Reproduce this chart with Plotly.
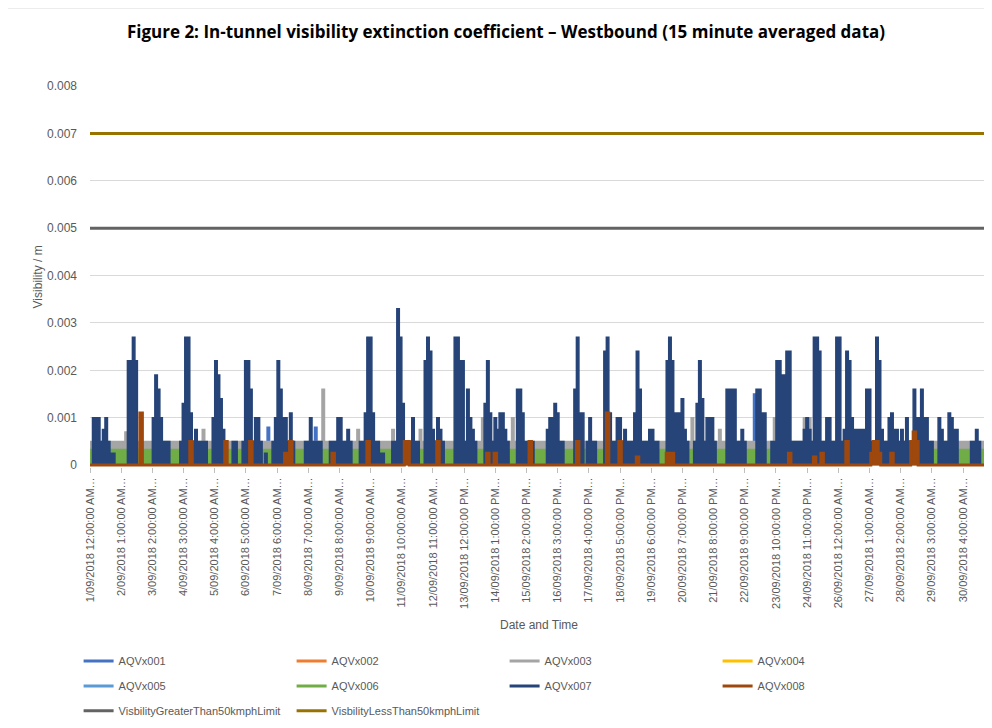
import pandas as pd
import plotly.graph_objects as go

# ---------------- data ----------------
START = "2018-09-01 00:00"   # first sample
BIN = "2h"                    # values below are 2-hour envelopes of the 15-min data

tick_labels = [
    "1/09/2018 12:00:00 AM…", "2/09/2018 1:00:00 AM…", "3/09/2018 2:00:00 AM…",
    "4/09/2018 3:00:00 AM…", "5/09/2018 4:00:00 AM…", "6/09/2018 5:00:00 AM…",
    "7/09/2018 6:00:00 AM…", "8/09/2018 7:00:00 AM…", "9/09/2018 8:00:00 AM…",
    "10/09/2018 9:00:00 AM…", "11/09/2018 10:00:00 AM…", "12/09/2018 11:00:00 AM…",
    "13/09/2018 12:00:00 PM…", "14/09/2018 1:00:00 PM…", "15/09/2018 2:00:00 PM…",
    "16/09/2018 3:00:00 PM…", "17/09/2018 4:00:00 PM…", "18/09/2018 5:00:00 PM…",
    "19/09/2018 6:00:00 PM…", "20/09/2018 7:00:00 PM…", "21/09/2018 8:00:00 PM…",
    "22/09/2018 9:00:00 PM…", "23/09/2018 10:00:00 PM…", "24/09/2018 11:00:00 PM…",
    "26/09/2018 12:00:00 AM…", "27/09/2018 1:00:00 AM…", "28/09/2018 2:00:00 AM…",
    "29/09/2018 3:00:00 AM…", "30/09/2018 4:00:00 AM…",
]
tick_times = [
    "2018-09-01 00:00", "2018-09-02 01:00", "2018-09-03 02:00", "2018-09-04 03:00",
    "2018-09-05 04:00", "2018-09-06 05:00", "2018-09-07 06:00", "2018-09-08 07:00",
    "2018-09-09 08:00", "2018-09-10 09:00", "2018-09-11 10:00", "2018-09-12 11:00",
    "2018-09-13 12:00", "2018-09-14 13:00", "2018-09-15 14:00", "2018-09-16 15:00",
    "2018-09-17 16:00", "2018-09-18 17:00", "2018-09-19 18:00", "2018-09-20 19:00",
    "2018-09-21 20:00", "2018-09-22 21:00", "2018-09-23 22:00", "2018-09-24 23:00",
    "2018-09-26 00:00", "2018-09-27 01:00", "2018-09-28 02:00", "2018-09-29 03:00",
    "2018-09-30 04:00",
]

# AQVx007, one row per day, 12 two-hour values
aqvx007_by_day = [
    [0, 0.001, 0.001, 0.001, 0.0005, 0.00075, 0.001, 0.0005, 0.00025, 0.00025, 0, 0],
    [0, 0, 0, 0.0022, 0.0022, 0.0027, 0.0022, 0, 0, 0, 0, 0],
    [0, 0.001, 0.0019, 0.0016, 0.001, 0.0005, 0.0005, 0.0005, 0, 0, 0, 0],
    [0.0005, 0.0013, 0.0027, 0.0027, 0.0011, 0.0005, 0.00075, 0.0005, 0.0005, 0.0005, 0.0005, 0],
    [0, 0.001, 0.0022, 0.0019, 0.0014, 0.00075, 0, 0, 0, 0.0005, 0.0005, 0],
    [0, 0.0005, 0.0022, 0.0022, 0.0016, 0.0005, 0.001, 0.001, 0.0005, 0, 0.00025, 0],
    [0, 0.0005, 0.001, 0.0022, 0.0016, 0.001, 0.001, 0.0005, 0.0011, 0.0005, 0, 0],
    [0, 0, 0.0005, 0.0005, 0.001, 0.0005, 0.0005, 0.0005, 0.0005, 0, 0, 0],
    [0.0005, 0.0005, 0.0005, 0.001, 0.001, 0.0005, 0.0005, 0.00075, 0.0005, 0, 0, 0],
    [0.0005, 0.0005, 0.0011, 0.0027, 0.0027, 0.0011, 0.0005, 0.0005, 0.00025, 0.00025, 0, 0],
    [0, 0.0005, 0.0005, 0.0033, 0.0027, 0.0013, 0.0005, 0.0005, 0.0005, 0.001, 0.0005, 0.0005],
    [0, 0, 0.0022, 0.0027, 0.0024, 0.00075, 0.0005, 0.001, 0.00075, 0.0005, 0, 0],
    [0, 0, 0.0027, 0.0027, 0.0022, 0.0022, 0.0005, 0.0016, 0.001, 0.00075, 0.0005, 0],
    [0, 0, 0.0013, 0.0022, 0.0011, 0.0005, 0.001, 0.00075, 0.0011, 0.0011, 0.00075, 0.0005],
    [0, 0, 0, 0.0016, 0.0016, 0.0011, 0.0005, 0.0005, 0.0005, 0.0005, 0, 0],
    [0, 0, 0, 0.00075, 0.001, 0.001, 0.0013, 0.0011, 0.0005, 0.0005, 0, 0],
    [0, 0, 0.0016, 0.0027, 0.0011, 0.0011, 0, 0.0005, 0.001, 0.0005, 0.0005, 0],
    [0, 0, 0.0024, 0.0027, 0.0011, 0.0005, 0.0005, 0.001, 0.001, 0.0005, 0.00075, 0.0005],
    [0.0005, 0.0005, 0.0011, 0.0024, 0.0016, 0.0005, 0.0005, 0.0005, 0.00075, 0.00075, 0.0005, 0.0005],
    [0, 0, 0, 0.0022, 0.0027, 0.0022, 0.0011, 0.0011, 0.0011, 0.0014, 0.00075, 0.0005],
    [0, 0, 0.0005, 0.0013, 0.0022, 0.0014, 0.0005, 0.001, 0.001, 0.001, 0.0005, 0],
    [0, 0, 0, 0.0016, 0.0016, 0.0016, 0.0016, 0.0005, 0.0005, 0.00075, 0.0005, 0],
    [0, 0, 0, 0.0016, 0.0016, 0.0011, 0.0011, 0, 0, 0.0005, 0.0005, 0.0022],
    [0.0022, 0.0019, 0.0019, 0.0024, 0.0024, 0.0005, 0.0005, 0.0005, 0.0005, 0.0005, 0.00075, 0.001],
    [0.00075, 0.0005, 0.0027, 0.0027, 0.0024, 0.0005, 0.0005, 0.001, 0.001, 0.0005, 0.0005, 0.0027],
    [0.0027, 0.0005, 0.00075, 0.0024, 0.0022, 0.001, 0.00075, 0.00075, 0.00075, 0.00075, 0.00075, 0.0016],
    [0.0016, 0.0005, 0.0005, 0.0027, 0.0022, 0.00075, 0.0005, 0.0005, 0.001, 0.0011, 0.00075, 0.00075],
    [0.0005, 0.00075, 0.0005, 0.001, 0.0005, 0.0005, 0.0016, 0.001, 0.001, 0.0016, 0.001, 0.001],
    [0.0005, 0.0005, 0, 0, 0.001, 0.00075, 0.0005, 0.0005, 0.0011, 0.001, 0.00075, 0.00075],
    [0, 0, 0, 0, 0, 0.0005, 0.0005, 0.00075, 0.0005, 0, 0, 0.0005],
]

# AQVx003: steady level with a few higher readings (2-hour bin index -> value)
aqvx003_level = 0.0005
aqvx003_peaks = {14: 0.0007, 45: 0.00075, 93: 0.0016, 107: 0.00075, 121: 0.00075,
                 132: 0.00075, 157: 0.001, 169: 0.001, 241: 0.001, 252: 0.00075,
                 274: 0.001, 286: 0.001, 287: 0.001, 288: 0.001}
# AQVx006: steady level
aqvx006_level = 0.00033
# AQVx008: zero except these readings
aqvx008_peaks = {20: 0.0011, 40: 0.0005, 54: 0.0005, 64: 0.0005, 78: 0.00025, 80: 0.0005,
                 97: 0.00025, 111: 0.0005, 126: 0.0005, 127: 0.0005, 139: 0.0005,
                 159: 0.00025, 162: 0.00025, 176: 0.0005, 195: 0.0005, 207: 0.0011,
                 212: 0.0005, 219: 0.00017, 231: 0.00025, 233: 0.00025, 280: 0.00025,
                 290: 0.00017, 293: 0.00025, 303: 0.0005, 313: 0.00025, 314: 0.0005,
                 315: 0.0005, 316: 0.00025, 321: 0.00025, 329: 0.0005, 330: 0.0007,
                 331: 0.0005}
# AQVx001: zero except these readings
aqvx001_peaks = {71: 0.0008, 90: 0.0008, 266: 0.0015}
# AQVx002, AQVx004, AQVx005 read as zero throughout
zero_level = 0.0

limit_gt50 = 0.005
limit_lt50 = 0.007

y_tick_vals = [0, 0.001, 0.002, 0.003, 0.004, 0.005, 0.006, 0.007, 0.008]
y_tick_text = ["0", "0.001", "0.002", "0.003", "0.004", "0.005", "0.006", "0.007", "0.008"]

# ---------------- build series ----------------
aqvx007 = [v for day in aqvx007_by_day for v in day]
n = len(aqvx007)
times = pd.date_range(START, periods=n + 1, freq=BIN)


def from_peaks(base, peaks):
    return [peaks.get(i, base) for i in range(n)]


def stepped(vals):
    return list(vals) + [vals[-1]]


series = [
    ("AQVx001", from_peaks(0.0, aqvx001_peaks), "#4472C4", True, "legend"),
    ("AQVx002", [zero_level] * n, "#ED7D31", False, "legend"),
    ("AQVx003", from_peaks(aqvx003_level, aqvx003_peaks), "#A5A5A5", True, "legend"),
    ("AQVx004", [zero_level] * n, "#FFC000", False, "legend"),
    ("AQVx005", [zero_level] * n, "#5B9BD5", False, "legend2"),
    ("AQVx006", [aqvx006_level] * n, "#70AD47", True, "legend2"),
    ("AQVx007", aqvx007, "#264478", True, "legend2"),
    ("AQVx008", from_peaks(0.0, aqvx008_peaks), "#9E480E", True, "legend2"),
]

fig = go.Figure()
for name, vals, color, filled, leg in series:
    fig.add_trace(go.Scatter(
        x=times, y=stepped(vals), name=name, mode="lines",
        line=dict(color=color, width=3 if name == "AQVx008" else 1.5, shape="hv"),
        fill="tozeroy" if filled else None, fillcolor=color,
        showlegend=False, hoverinfo="skip",
    ))

limits = [("VisbilityGreaterThan50kmphLimit", limit_gt50, "#636363"),
          ("VisbilityLessThan50kmphLimit", limit_lt50, "#997300")]
for name, val, color in limits:
    fig.add_trace(go.Scatter(x=[times[0], times[-1]], y=[val, val], name=name, mode="lines",
                             line=dict(color=color, width=3), showlegend=False, hoverinfo="skip"))

# legend entries (line keys, as in the original)
for name, vals, color, filled, leg in series:
    fig.add_trace(go.Scatter(x=[None], y=[None], name=name, mode="lines",
                             line=dict(color=color, width=3), legend=leg))
for name, val, color in limits:
    fig.add_trace(go.Scatter(x=[None], y=[None], name=name, mode="lines",
                             line=dict(color=color, width=3), legend="legend3"))

FONT = "Liberation Sans"
GREY = "#595959"
leg_common = dict(orientation="h", entrywidth=168, entrywidthmode="pixels",
                  xanchor="left", yanchor="middle", x=-0.0127, itemwidth=30,
                  font=dict(family=FONT, size=11, color=GREY), bgcolor="rgba(0,0,0,0)",
                  traceorder="normal")

fig.update_layout(
    width=984, height=720,
    margin=dict(l=82, r=4, t=78, b=261, autoexpand=False),
    paper_bgcolor="white", plot_bgcolor="white",
    title=dict(text="<b>Figure 2: In-tunnel visibility extinction coefficient – Westbound (15 minute averaged data)</b>",
               x=(506 - 8) / 984, y=1 - (32 - 8) / 720, xanchor="center", yanchor="middle",
               font=dict(family="Open Sans", size=17, color="black")),
    showlegend=True,
    legend=dict(leg_common, y=-0.509),
    legend2=dict(leg_common, y=-0.575),
    legend3=dict(leg_common, y=-0.640),
    xaxis=dict(range=[times[0], times[-1]], tickvals=pd.to_datetime(tick_times), ticktext=tick_labels,
               tickangle=-90, tickfont=dict(family=FONT, size=11, color=GREY),
               ticks="outside", ticklen=5, tickcolor="#bfbfbf", showgrid=False,
               showline=False, zeroline=False, fixedrange=True),
    yaxis=dict(range=[-0.00004, 0.008], tickvals=y_tick_vals, ticktext=y_tick_text,
               tickfont=dict(family=FONT, size=12, color=GREY), showgrid=True,
               gridcolor="#d9d9d9", gridwidth=1, zeroline=False, showline=False,
               ticks="", ticklabelstandoff=12, fixedrange=True),
    annotations=[
        dict(text="Visibility / m", x=-0.058, y=0.5, xref="paper", yref="paper",
             textangle=-90, showarrow=False, xanchor="center", yanchor="middle",
             font=dict(family=FONT, size=12, color=GREY)),
        dict(text="Date and Time", x=0.5, y=-0.4147, xref="paper", yref="paper",
             showarrow=False, xanchor="center", yanchor="middle",
             font=dict(family=FONT, size=12, color=GREY)),
    ],
    shapes=[dict(type="rect", xref="paper", yref="paper", x0=-0.0947, x1=1.02,
                 y0=-0.75, y1=1.2047, line=dict(color="#d9d9d9", width=1), layer="below")],
)

fig.write_html("out.html")
